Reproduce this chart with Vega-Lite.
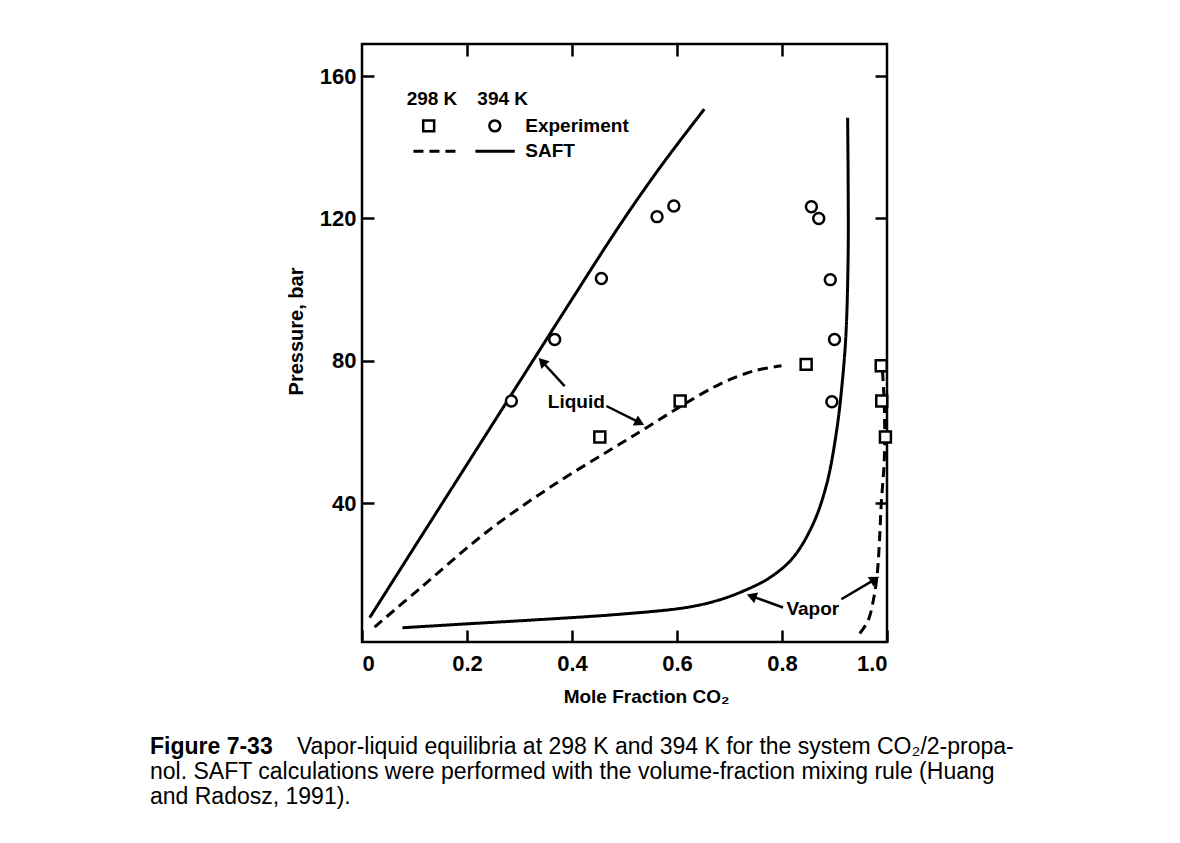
{
  "$schema": "https://vega.github.io/schema/vega-lite/v6.json",
  "width": 525,
  "height": 598,
  "padding": {"left": 150, "top": 42, "right": 10, "bottom": 10},
  "background": "white",
  "config": {
    "font": "Liberation Sans",
    "view": {"stroke": "black", "strokeWidth": 2.5},
    "axis": {
      "grid": false,
      "domain": false,
      "tickColor": "black",
      "tickWidth": 2.5,
      "tickSize": -12,
      "labelColor": "black",
      "titleColor": "black",
      "labelFont": "Liberation Sans",
      "titleFont": "Liberation Sans",
      "labelFontSize": 22,
      "labelFontWeight": "bold",
      "titleFontSize": 19,
      "titleFontWeight": "bold"
    }
  },
  "title": {
    "text": "Figure 7-33",
    "subtitle": [
      "\u200b\u00a0\u00a0\u00a0\u00a0\u00a0\u00a0\u00a0\u00a0\u00a0\u00a0\u00a0\u00a0\u00a0\u00a0\u00a0\u00a0\u00a0\u00a0\u00a0\u00a0\u00a0\u00a0\u00a0Vapor-liquid equilibria at 298 K and 394 K for the system CO₂/2-propa-",
      "nol. SAFT calculations were performed with the volume-fraction mixing rule (Huang",
      "and Radosz, 1991)."
    ],
    "orient": "bottom",
    "anchor": "start",
    "frame": "group",
    "dx": -212,
    "offset": 30,
    "font": "Liberation Sans",
    "fontSize": 23,
    "fontWeight": "bold",
    "color": "black",
    "subtitleFont": "Liberation Sans",
    "subtitleFontSize": 23,
    "subtitleFontWeight": "normal",
    "subtitleColor": "black",
    "subtitleLineHeight": 25,
    "subtitlePadding": -23
  },
  "datasets": {
    "curves": [
      {"curve": "L394", "T": "394 K", "i": 0, "x": 0.0147, "p": 7.85},
      {"curve": "L394", "T": "394 K", "i": 1, "x": 0.1, "p": 27.7},
      {"curve": "L394", "T": "394 K", "i": 2, "x": 0.2, "p": 50.9},
      {"curve": "L394", "T": "394 K", "i": 3, "x": 0.3, "p": 74.1},
      {"curve": "L394", "T": "394 K", "i": 4, "x": 0.4, "p": 97.3},
      {"curve": "L394", "T": "394 K", "i": 5, "x": 0.47, "p": 113.4},
      {"curve": "L394", "T": "394 K", "i": 6, "x": 0.52, "p": 124.4},
      {"curve": "L394", "T": "394 K", "i": 7, "x": 0.58, "p": 136.8},
      {"curve": "L394", "T": "394 K", "i": 8, "x": 0.652, "p": 150.7},
      {"curve": "V394", "T": "394 K", "i": 0, "x": 0.077, "p": 5.0},
      {"curve": "V394", "T": "394 K", "i": 1, "x": 0.2, "p": 6.1},
      {"curve": "V394", "T": "394 K", "i": 2, "x": 0.35, "p": 7.4},
      {"curve": "V394", "T": "394 K", "i": 3, "x": 0.491, "p": 8.8},
      {"curve": "V394", "T": "394 K", "i": 4, "x": 0.618, "p": 10.7},
      {"curve": "V394", "T": "394 K", "i": 5, "x": 0.68, "p": 12.8},
      {"curve": "V394", "T": "394 K", "i": 6, "x": 0.726, "p": 15.3},
      {"curve": "V394", "T": "394 K", "i": 7, "x": 0.777, "p": 19.1},
      {"curve": "V394", "T": "394 K", "i": 8, "x": 0.821, "p": 24.7},
      {"curve": "V394", "T": "394 K", "i": 9, "x": 0.859, "p": 34.1},
      {"curve": "V394", "T": "394 K", "i": 10, "x": 0.885, "p": 45.3},
      {"curve": "V394", "T": "394 K", "i": 11, "x": 0.904, "p": 60.3},
      {"curve": "V394", "T": "394 K", "i": 12, "x": 0.915, "p": 74.3},
      {"curve": "V394", "T": "394 K", "i": 13, "x": 0.922, "p": 88.0},
      {"curve": "V394", "T": "394 K", "i": 14, "x": 0.926, "p": 110.0},
      {"curve": "V394", "T": "394 K", "i": 15, "x": 0.926, "p": 130.0},
      {"curve": "V394", "T": "394 K", "i": 16, "x": 0.925, "p": 148.3},
      {"curve": "L298", "T": "298 K", "i": 0, "x": 0.024, "p": 5.2},
      {"curve": "L298", "T": "298 K", "i": 1, "x": 0.113, "p": 16.4},
      {"curve": "L298", "T": "298 K", "i": 2, "x": 0.24, "p": 32.2},
      {"curve": "L298", "T": "298 K", "i": 3, "x": 0.367, "p": 45.3},
      {"curve": "L298", "T": "298 K", "i": 4, "x": 0.491, "p": 56.6},
      {"curve": "L298", "T": "298 K", "i": 5, "x": 0.542, "p": 61.2},
      {"curve": "L298", "T": "298 K", "i": 6, "x": 0.608, "p": 67.3},
      {"curve": "L298", "T": "298 K", "i": 7, "x": 0.681, "p": 73.4},
      {"curve": "L298", "T": "298 K", "i": 8, "x": 0.745, "p": 77.1},
      {"curve": "L298", "T": "298 K", "i": 9, "x": 0.799, "p": 78.6},
      {"curve": "V298", "T": "298 K", "i": 0, "x": 0.948, "p": 3.4},
      {"curve": "V298", "T": "298 K", "i": 1, "x": 0.964, "p": 7.0},
      {"curve": "V298", "T": "298 K", "i": 2, "x": 0.975, "p": 13.5},
      {"curve": "V298", "T": "298 K", "i": 3, "x": 0.981, "p": 19.6},
      {"curve": "V298", "T": "298 K", "i": 4, "x": 0.985, "p": 27.5},
      {"curve": "V298", "T": "298 K", "i": 5, "x": 0.989, "p": 39.7},
      {"curve": "V298", "T": "298 K", "i": 6, "x": 0.995, "p": 52.8},
      {"curve": "V298", "T": "298 K", "i": 7, "x": 0.995, "p": 66.8},
      {"curve": "V298", "T": "298 K", "i": 8, "x": 0.991, "p": 78.1},
      {"curve": "G298", "T": "298 K", "i": 0, "x": 0.098, "p": 138.9},
      {"curve": "G298", "T": "298 K", "i": 1, "x": 0.186, "p": 138.9},
      {"curve": "G394", "T": "394 K", "i": 0, "x": 0.216, "p": 138.9},
      {"curve": "G394", "T": "394 K", "i": 1, "x": 0.291, "p": 138.9}
    ],
    "points": [
      {"T": "298 K", "x": 0.453, "p": 58.6},
      {"T": "298 K", "x": 0.606, "p": 68.7},
      {"T": "298 K", "x": 0.846, "p": 79.0},
      {"T": "298 K", "x": 0.989, "p": 78.6},
      {"T": "298 K", "x": 0.99, "p": 68.7},
      {"T": "298 K", "x": 0.997, "p": 58.6},
      {"T": "394 K", "x": 0.2845, "p": 68.7},
      {"T": "394 K", "x": 0.367, "p": 86.0},
      {"T": "394 K", "x": 0.456, "p": 103.1},
      {"T": "394 K", "x": 0.562, "p": 120.5},
      {"T": "394 K", "x": 0.594, "p": 123.5},
      {"T": "394 K", "x": 0.856, "p": 123.3},
      {"T": "394 K", "x": 0.87, "p": 120.0},
      {"T": "394 K", "x": 0.892, "p": 102.8},
      {"T": "394 K", "x": 0.9, "p": 86.0},
      {"T": "394 K", "x": 0.895, "p": 68.5},
      {"T": "298 K", "x": 0.127, "p": 146.0},
      {"T": "394 K", "x": 0.253, "p": 146.0}
    ],
    "arrows": [
      {"a": "a1", "part": "start", "x": 0.386, "p": 72.9},
      {"a": "a1", "part": "head", "x": 0.343, "p": 79.8},
      {"a": "a2", "part": "start", "x": 0.4655, "p": 67.3},
      {"a": "a2", "part": "head", "x": 0.529, "p": 62.6},
      {"a": "a3", "part": "start", "x": 0.802, "p": 10.7},
      {"a": "a3", "part": "head", "x": 0.742, "p": 13.9},
      {"a": "a4", "part": "start", "x": 0.913, "p": 13.0},
      {"a": "a4", "part": "head", "x": 0.977, "p": 18.6}
    ],
    "labels": [
      {"label": "298 K", "x": 0.085, "p": 153.5},
      {"label": "394 K", "x": 0.2197, "p": 153.5},
      {"label": "Experiment", "x": 0.311, "p": 146.0},
      {"label": "SAFT", "x": 0.311, "p": 138.9},
      {"label": "Liquid", "x": 0.354, "p": 68.5},
      {"label": "Vapor", "x": 0.8084, "p": 10.2}
    ]
  },
  "layer": [
    {
      "data": {"name": "curves"},
      "mark": {"type": "line", "color": "black", "strokeWidth": 3, "interpolate": "catmull-rom"},
      "encoding": {
        "x": {
          "field": "x", "type": "quantitative",
          "scale": {"domain": [0, 1], "nice": false, "zero": false},
          "axis": {
            "orient": "bottom",
            "values": [0, 0.2, 0.4, 0.6, 0.8, 1],
            "labelExpr": "datum.value == 0 ? '0' : format(datum.value, '.1f')",
            "labelPadding": 23,
            "title": "Mole Fraction CO₂",
            "titlePadding": 13,
            "titleX": 284
          }
        },
        "y": {
          "field": "p", "type": "quantitative",
          "scale": {"domain": [1, 169], "nice": false, "zero": false},
          "axis": {
            "orient": "left",
            "values": [40, 80, 120, 160],
            "labelPadding": 18,
            "title": "Pressure, bar",
            "titleFontSize": 20,
            "titlePadding": 13,
            "titleY": 287
          }
        },
        "detail": {"field": "curve"},
        "order": {"field": "i", "type": "quantitative"},
        "strokeDash": {
          "field": "T", "type": "nominal",
          "scale": {"domain": ["298 K", "394 K"], "range": [[10, 6], [1, 0]]},
          "legend": null
        }
      }
    },
    {
      "data": {"name": "arrows"},
      "mark": {"type": "line", "color": "black", "strokeWidth": 2.5},
      "encoding": {
        "x": {
          "field": "x", "type": "quantitative",
          "scale": {"domain": [0, 1], "nice": false, "zero": false},
          "axis": {"orient": "top", "values": [0.2, 0.4, 0.6, 0.8], "labels": false, "title": null}
        },
        "y": {
          "field": "p", "type": "quantitative",
          "scale": {"domain": [1, 169], "nice": false, "zero": false},
          "axis": {"orient": "right", "values": [40, 80, 120, 160], "labels": false, "title": null}
        },
        "detail": {"field": "a"}
      }
    },
    {
      "data": {"name": "arrows"},
      "transform": [{"filter": "datum.part == 'head' && datum.a == 'a1'"}],
      "mark": {"type": "point", "shape": "triangle-up", "filled": true, "color": "black", "size": 130, "opacity": 1, "angle": 317},
      "encoding": {
        "x": {"field": "x", "type": "quantitative", "scale": {"domain": [0, 1], "nice": false, "zero": false}, "axis": null},
        "y": {"field": "p", "type": "quantitative", "scale": {"domain": [1, 169], "nice": false, "zero": false}, "axis": null}
      }
    },
    {
      "data": {"name": "arrows"},
      "transform": [{"filter": "datum.part == 'head' && datum.a == 'a2'"}],
      "mark": {"type": "point", "shape": "triangle-up", "filled": true, "color": "black", "size": 130, "opacity": 1, "angle": 117},
      "encoding": {
        "x": {"field": "x", "type": "quantitative", "scale": {"domain": [0, 1], "nice": false, "zero": false}, "axis": null},
        "y": {"field": "p", "type": "quantitative", "scale": {"domain": [1, 169], "nice": false, "zero": false}, "axis": null}
      }
    },
    {
      "data": {"name": "arrows"},
      "transform": [{"filter": "datum.part == 'head' && datum.a == 'a3'"}],
      "mark": {"type": "point", "shape": "triangle-up", "filled": true, "color": "black", "size": 130, "opacity": 1, "angle": 290},
      "encoding": {
        "x": {"field": "x", "type": "quantitative", "scale": {"domain": [0, 1], "nice": false, "zero": false}, "axis": null},
        "y": {"field": "p", "type": "quantitative", "scale": {"domain": [1, 169], "nice": false, "zero": false}, "axis": null}
      }
    },
    {
      "data": {"name": "arrows"},
      "transform": [{"filter": "datum.part == 'head' && datum.a == 'a4'"}],
      "mark": {"type": "point", "shape": "triangle-up", "filled": true, "color": "black", "size": 130, "opacity": 1, "angle": 59},
      "encoding": {
        "x": {"field": "x", "type": "quantitative", "scale": {"domain": [0, 1], "nice": false, "zero": false}, "axis": null},
        "y": {"field": "p", "type": "quantitative", "scale": {"domain": [1, 169], "nice": false, "zero": false}, "axis": null}
      }
    },
    {
      "data": {"name": "points"},
      "mark": {"type": "point", "filled": true, "fill": "white", "stroke": "black", "strokeWidth": 2.5, "size": 120, "opacity": 1},
      "encoding": {
        "x": {"field": "x", "type": "quantitative", "scale": {"domain": [0, 1], "nice": false, "zero": false}, "axis": null},
        "y": {"field": "p", "type": "quantitative", "scale": {"domain": [1, 169], "nice": false, "zero": false}, "axis": null},
        "shape": {
          "field": "T", "type": "nominal",
          "scale": {"domain": ["298 K", "394 K"], "range": ["square", "circle"]},
          "legend": null
        }
      }
    },
    {
      "data": {"name": "labels"},
      "mark": {"type": "text", "align": "left", "baseline": "middle", "font": "Liberation Sans", "fontSize": 19, "fontWeight": "bold", "color": "black"},
      "encoding": {
        "x": {"field": "x", "type": "quantitative", "scale": {"domain": [0, 1], "nice": false, "zero": false}, "axis": null},
        "y": {"field": "p", "type": "quantitative", "scale": {"domain": [1, 169], "nice": false, "zero": false}, "axis": null},
        "text": {"field": "label"}
      }
    }
  ],
  "resolve": {"axis": {"x": "independent", "y": "independent"}}
}
